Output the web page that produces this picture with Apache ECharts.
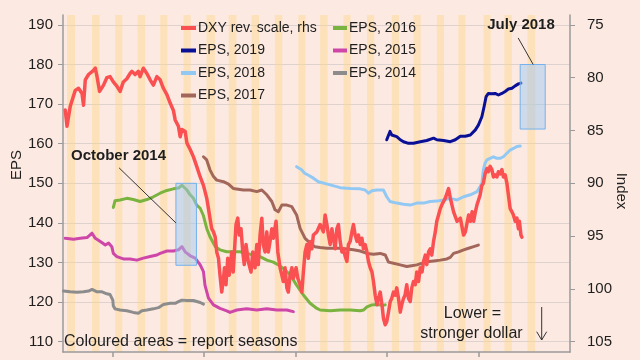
<!DOCTYPE html>
<html>
<head>
<meta charset="utf-8">
<script src="https://cdn.jsdelivr.net/npm/echarts@6/dist/echarts.min.js"></script>
<style>
html,body{margin:0;padding:0;background:#FCEAE2;}
#chart{width:640px;height:360px;}
</style>
</head>
<body>
<div id="chart"></div>
<script>
// ---- Data ----
const dxyDates = ['2013-06-25','2013-07-02','2013-07-15','2013-08-04','2013-08-17','2013-08-31','2013-09-06','2013-09-13','2013-09-26','2013-10-16','2013-10-23','2013-10-30','2013-11-09','2013-11-25','2013-12-08','2013-12-21',
'2014-01-03','2014-01-17','2014-01-30','2014-02-12','2014-02-26','2014-03-11','2014-03-18','2014-03-31','2014-04-13','2014-04-20','2014-05-03','2014-05-17','2014-05-30','2014-06-12','2014-06-26','2014-07-09','2014-07-22','2014-08-05','2014-08-18','2014-08-31','2014-09-07','2014-09-20','2014-09-27','2014-10-04','2014-10-17','2014-10-24','2014-11-06','2014-11-19','2014-12-02','2014-12-16','2014-12-29',
'2015-01-11','2015-01-18','2015-01-24','2015-01-31','2015-02-07','2015-02-14','2015-02-20','2015-02-27','2015-03-05','2015-03-12','2015-03-19','2015-03-23','2015-03-29','2015-04-05','2015-04-11','2015-04-21','2015-04-27','2015-05-08','2015-05-15','2015-05-21','2015-05-28','2015-06-04','2015-06-10','2015-06-17','2015-06-26','2015-07-07','2015-07-14','2015-07-23','2015-07-30','2015-08-05','2015-08-12','2015-08-19','2015-08-25','2015-09-01','2015-09-08','2015-09-14','2015-09-21','2015-09-28','2015-10-04','2015-10-15','2015-10-22','2015-10-31','2015-11-07','2015-11-13','2015-11-20','2015-11-27','2015-12-03','2015-12-10','2015-12-17','2015-12-23',
'2016-01-03','2016-01-10','2016-01-19','2016-01-26','2016-02-01','2016-02-08','2016-02-15','2016-02-21','2016-02-28','2016-03-06','2016-03-12','2016-03-26','2016-04-08','2016-04-21','2016-04-28','2016-05-05','2016-05-11','2016-05-18','2016-05-25','2016-05-31','2016-06-07','2016-06-14','2016-06-20','2016-06-27','2016-07-04','2016-07-10','2016-07-17','2016-07-24','2016-07-30','2016-08-06','2016-08-13','2016-08-19','2016-08-26','2016-09-02','2016-09-08','2016-09-15','2016-09-22','2016-09-28','2016-10-05','2016-10-12','2016-10-18','2016-10-25','2016-11-01','2016-11-07','2016-11-14','2016-11-21','2016-11-27','2016-12-04','2016-12-11','2016-12-17','2016-12-24','2016-12-30',
'2017-01-06','2017-01-13','2017-01-19','2017-01-26','2017-02-02','2017-02-08','2017-02-15','2017-02-22','2017-02-28','2017-03-07','2017-03-13','2017-03-20','2017-03-27','2017-04-03','2017-04-09','2017-04-16','2017-04-23','2017-04-29','2017-05-06','2017-05-13','2017-05-20','2017-05-26','2017-06-02','2017-06-08','2017-06-15','2017-06-22','2017-06-28','2017-07-05','2017-07-12','2017-07-18','2017-07-25','2017-08-01','2017-08-08','2017-08-21','2017-09-03','2017-09-10','2017-09-23','2017-10-07','2017-10-20','2017-11-02','2017-11-09','2017-11-22','2017-11-29','2017-12-06','2017-12-12','2017-12-19','2017-12-26',
'2018-01-07','2018-01-14','2018-01-20','2018-01-27','2018-02-03','2018-02-09','2018-02-16','2018-02-23','2018-03-01','2018-03-08','2018-03-15','2018-03-21','2018-03-28','2018-04-04','2018-04-10','2018-04-17','2018-04-24','2018-04-30','2018-05-07','2018-05-14','2018-05-20','2018-05-27','2018-06-03','2018-06-09','2018-06-13','2018-06-19','2018-06-23'];
const dxyValues = [83.05,84.6,82.7,81.2,81.0,81.5,82.6,80.2,79.7,79.3,79.1,79.9,81.3,80.7,80.0,79.9,
80.4,80.8,81.3,80.4,80.1,79.6,79.4,79.7,79.4,79.9,79.1,79.6,80.2,80.7,79.9,80.2,81.0,81.6,82.4,83.1,84.0,84.6,85.6,84.9,85.1,86.2,86.8,87.5,88.4,89.4,90.2,
91.4,92.4,93.3,94.3,94.6,95.1,96.5,97.1,98.7,100.3,99.0,98.0,99.6,97.1,98.7,96.5,98.4,93.9,93.3,94.9,94.3,96.5,97.7,95.8,97.4,98.4,96.5,98.0,95.8,97.7,94.9,93.3,95.8,96.5,94.6,96.5,95.5,94.3,95.2,93.6,96.5,98.0,98.7,99.3,98.0,99.9,100.3,98.7,98.0,99.0,
98.0,99.0,99.6,100.3,98.4,96.5,95.8,97.1,95.5,96.2,94.9,94.6,93.9,94.6,93.0,93.9,94.9,95.8,94.3,95.2,96.2,94.3,93.9,95.5,96.5,96.2,96.9,97.4,95.8,95.5,94.6,93.9,94.9,95.5,94.9,95.8,95.2,96.2,95.8,96.5,97.4,98.0,98.4,99.3,100.6,101.5,100.9,100.3,101.5,102.8,103.4,103.1,
102.2,101.2,100.9,100.3,100.6,99.9,100.9,102.2,101.5,100.9,100.6,99.6,100.9,101.2,99.9,99.3,99.6,98.4,99.3,98.0,98.4,97.4,96.8,97.7,96.5,96.2,96.8,95.5,94.6,93.6,93.0,92.4,92.0,91.4,90.5,91.4,92.7,93.6,93.3,94.9,94.6,93.0,93.6,92.7,93.6,92.7,92.0,
91.1,90.2,90.0,89.1,88.6,88.9,88.4,88.7,89.4,89.2,89.4,88.9,89.1,88.7,89.4,89.2,90.0,91.1,92.4,92.7,93.0,93.6,93.3,94.3,93.6,94.9,95.1];

const eps2014Dates = ['2013-06-18','2013-07-15','2013-08-11','2013-09-06','2013-09-26','2013-10-10','2013-10-30','2013-11-19','2013-12-08','2013-12-21','2014-01-01','2014-01-03','2014-01-10','2014-01-30','2014-02-26','2014-03-24','2014-04-13','2014-04-27','2014-05-17','2014-06-12','2014-07-02','2014-07-22','2014-08-18','2014-09-07','2014-09-20','2014-10-04','2014-10-24','2014-11-19','2014-12-16','2014-12-29'];
const eps2014Values = [122.8,122.6,122.5,122.6,122.8,123.2,122.6,122.6,122.1,121.9,120.5,119.0,118.3,118.0,117.8,117.4,117.2,117.8,118.0,118.3,118.6,119.4,119.7,119.7,120.1,120.5,120.4,120.4,119.9,119.5];

const eps2015Dates = ['2013-06-25','2013-07-28','2013-08-24','2013-09-20','2013-09-29','2013-10-10','2013-10-23','2013-11-12','2013-12-02','2013-12-15','2013-12-28','2014-01-03','2014-01-17','2014-02-12','2014-03-11','2014-04-07','2014-05-03','2014-05-30','2014-06-26','2014-07-09','2014-08-05','2014-08-31','2014-09-20','2014-10-04','2014-10-17','2014-11-06','2014-11-26','2014-12-16','2014-12-29','2015-01-04','2015-01-18','2015-02-07','2015-03-05','2015-04-01','2015-04-14','2015-05-11','2015-06-20','2015-07-30','2015-09-08','2015-10-18','2015-11-27','2015-12-23'];
const eps2015Values = [136.1,135.9,136.1,136.3,136.8,137.4,136.1,135.3,134.4,134.9,134.0,132.3,131.5,130.9,130.9,130.6,131.1,131.5,131.9,132.3,132.9,132.9,133.2,134.0,132.7,131.7,131.1,129.4,127.7,124.3,121.0,119.3,118.4,117.8,117.4,118.0,118.3,118.0,118.3,118.0,118.0,117.6];

const eps2016Dates = ['2014-01-03','2014-01-10','2014-01-30','2014-02-26','2014-03-24','2014-04-20','2014-05-17','2014-06-12','2014-07-09','2014-08-05','2014-08-31','2014-09-20','2014-10-04','2014-10-10','2014-10-24','2014-11-06','2014-11-19','2014-12-02','2014-12-16','2014-12-29','2015-01-11','2015-01-24','2015-02-14','2015-03-05','2015-04-01','2015-04-27','2015-05-24','2015-06-20','2015-07-16','2015-08-12','2015-09-08','2015-10-04','2015-10-24','2015-11-13','2015-12-10','2016-01-05','2016-02-01','2016-02-28','2016-03-26','2016-04-08','2016-05-18','2016-06-27','2016-08-06','2016-09-15','2016-09-28','2016-10-12','2016-11-01','2016-11-21','2016-12-17','2016-12-24'];
const eps2016Values = [143.9,145.6,145.8,146.2,145.9,145.4,145.9,146.6,147.5,148.2,148.6,148.8,149.5,149.0,148.3,147.1,146.2,144.5,143.7,141.8,138.6,136.5,134.0,133.2,132.7,132.7,132.7,132.3,131.9,131.5,130.6,130.1,129.4,128.5,126.9,124.3,121.8,119.7,118.4,118.0,117.8,118.0,118.0,117.8,118.0,118.8,119.3,119.4,119.2,119.3];

const eps2017Dates = ['2014-12-29','2015-01-11','2015-01-24','2015-02-07','2015-02-20','2015-03-19','2015-04-08','2015-04-27','2015-06-06','2015-07-03','2015-07-30','2015-08-19','2015-09-08','2015-09-28','2015-10-11','2015-10-24','2015-11-07','2015-11-27','2015-12-17','2016-01-05','2016-01-19','2016-02-08','2016-02-28','2016-03-18','2016-04-08','2016-05-05','2016-05-31','2016-06-27','2016-07-24','2016-08-19','2016-09-15','2016-10-12','2016-11-07','2016-12-04','2016-12-24','2017-01-06','2017-01-26','2017-02-22','2017-03-20','2017-04-09','2017-04-29','2017-05-20','2017-06-08','2017-07-05','2017-08-01','2017-08-27','2017-09-10','2017-09-23','2017-10-13','2017-11-02','2017-11-22','2017-12-12','2017-12-31'];
const eps2017Values = [156.7,155.9,153.4,151.7,150.8,150.4,149.8,148.7,148.3,148.3,147.9,148.3,147.1,145.4,143.3,142.8,144.5,144.5,144.1,142.0,138.6,136.1,134.9,134.0,133.8,133.6,133.6,133.6,133.4,133.2,132.9,132.3,132.1,132.3,131.9,130.1,129.8,129.4,129.0,129.2,129.4,129.8,130.2,130.4,130.6,130.9,131.3,132.3,132.7,133.2,133.6,134.0,134.4];

const eps2018Dates = ['2016-01-05','2016-01-11','2016-01-25','2016-02-07','2016-02-20','2016-03-12','2016-04-01','2016-04-08','2016-05-18','2016-06-27','2016-08-06','2016-09-15','2016-10-05','2016-10-18','2016-11-01','2016-11-21','2016-12-17','2016-12-30','2017-01-12','2017-02-08','2017-03-07','2017-04-03','2017-04-29','2017-05-26','2017-06-22','2017-07-18','2017-08-14','2017-09-10','2017-10-07','2017-11-02','2017-11-29','2017-12-26','2018-01-07','2018-01-14','2018-01-20','2018-01-27','2018-02-03','2018-02-16','2018-03-01','2018-03-15','2018-03-28','2018-04-10','2018-04-24','2018-05-07','2018-05-20','2018-06-03','2018-06-16'];
const eps2018Values = [154.2,154.6,153.4,152.5,152.1,151.3,150.4,150.2,149.6,148.9,148.7,148.6,148.3,147.5,148.1,148.3,148.3,146.6,145.4,145.0,144.7,144.5,145.0,145.0,145.4,145.5,145.8,146.2,145.8,146.6,147.1,147.9,149.2,150.0,153.4,155.1,155.9,156.3,156.7,156.3,156.3,156.7,157.6,158.4,158.8,159.3,159.4];

const eps2019Dates = ['2016-12-30','2017-01-12','2017-01-19','2017-01-26','2017-02-08','2017-02-22','2017-03-07','2017-03-27','2017-04-16','2017-05-13','2017-06-08','2017-07-05','2017-07-18','2017-08-14','2017-09-10','2017-09-30','2017-10-20','2017-11-09','2017-11-29','2017-12-19','2017-12-31','2018-01-14','2018-01-23','2018-01-31','2018-02-09','2018-02-23','2018-03-08','2018-03-21','2018-04-04','2018-04-17','2018-04-30','2018-05-14','2018-05-27','2018-06-09','2018-06-19'];
const eps2019Values = [161.0,163.1,162.2,162.6,161.8,161.0,160.5,160.1,160.1,160.5,160.8,161.4,161.0,160.8,160.5,161.0,161.9,161.9,162.2,163.5,164.7,166.8,169.4,171.9,172.7,172.6,172.7,172.3,172.7,173.2,173.8,174.0,174.6,175.1,175.3];

// report seasons (shaded bands)
const seasonStarts = ['2013-07-02','2013-10-10','2014-01-10','2014-04-09','2014-07-09','2014-10-10','2015-01-10','2015-04-09','2015-07-09','2015-10-10','2016-01-12','2016-04-08','2016-07-10','2016-10-12','2017-01-19','2017-04-16','2017-07-18','2017-10-12','2018-01-20','2018-04-14','2018-07-15'];
const seasonEnds = ['2013-08-03','2013-11-09','2014-02-08','2014-05-10','2014-08-07','2014-11-08','2015-02-13','2015-05-10','2015-08-08','2015-11-09','2016-02-10','2016-05-08','2016-08-08','2016-11-10','2017-02-17','2017-05-15','2017-08-16','2017-11-10','2018-02-18','2018-05-14','2018-08-15'];

// highlighted periods
const boxNames = ['October 2014', 'July 2018'];
const boxStart = ['2014-09-10', '2018-06-16'];
const boxEnd = ['2014-12-01', '2018-09-24'];
const boxLow = [129.3, 163.7];
const boxHigh = [150, 180];
const leaderFrom = [['2014-01-26', 153.9], ['2018-06-08', 186.7]];
const leaderTo = [['2014-09-10', 140.0], ['2018-08-07', 180.0]];

// axes
const epsTicks = [110, 120, 130, 140, 150, 160, 170, 180, 190];
const indexTicks = [75, 80, 85, 90, 95, 100, 105];
const yearTicks = ['2014-01-01', '2015-01-01', '2016-01-01', '2017-01-01', '2018-01-01'];

// ---- Chart ----
const FONT = '"Liberation Sans", Arial, sans-serif';
const TXT = '#1e1e1e';
const epsMin = 107.4, epsMax = 192.5;
// DXY reversed scale aligned so 190 EPS <-> 75, 110 EPS <-> 105
const idxAt = e => 75 + (190 - e) * 0.375;

const pair = (d, v) => d.map((x, i) => [x, v[i]]);

const lineSeries = (name, dates, vals, color, width, yIdx) => ({
  name, type: 'line', data: pair(dates, vals), yAxisIndex: yIdx || 0,
  showSymbol: false, symbol: 'none', smooth: false,
  lineStyle: { color, width, join: 'round', cap: 'round' },
  itemStyle: { color }, z: 3
});

const option = {
  animation: false,
  backgroundColor: '#FCEAE2',
  textStyle: { fontFamily: FONT },
  grid: { left: 63, right: 70, top: 15, bottom: 8, containLabel: false },
  xAxis: {
    type: 'time', min: '2013-06-16', max: '2019-01-01',
    axisLine: { show: true, lineStyle: { color: '#9a9a9a', width: 1.5 } },
    axisTick: { show: true, length: 5, customValues: yearTicks, lineStyle: { color: '#9a9a9a', width: 1.5 } },
    axisLabel: { show: false },
    splitLine: { show: false }
  },
  yAxis: [{
    type: 'value', position: 'left', min: epsMin, max: epsMax,
    axisLine: { show: true, lineStyle: { color: '#9a9a9a', width: 1.5 } },
    axisTick: { show: true, length: 5, customValues: epsTicks, lineStyle: { color: '#9a9a9a' } },
    axisLabel: { customValues: epsTicks, fontSize: 15, color: TXT, margin: 10, fontFamily: FONT },
    splitLine: { show: true, lineStyle: { color: '#DDD2CD', width: 1 } }
  }, {
    type: 'value', position: 'right', inverse: true,
    min: idxAt(epsMax), max: idxAt(epsMin),
    axisLine: { show: true, lineStyle: { color: '#9a9a9a', width: 1.5 } },
    axisTick: { show: true, length: 5, customValues: indexTicks, lineStyle: { color: '#9a9a9a' } },
    axisLabel: { customValues: indexTicks, fontSize: 15, color: TXT, margin: 17, fontFamily: FONT },
    splitLine: { show: false }
  }],
  legend: [{
    data: ['DXY rev. scale, rhs', 'EPS, 2019', 'EPS, 2018', 'EPS, 2017'],
    orient: 'vertical', left: 181, top: 21, padding: 0,
    icon: 'rect', itemWidth: 15, itemHeight: 4, itemGap: 8.5,
    textStyle: { fontSize: 14, color: TXT, lineHeight: 14, fontFamily: FONT, padding: [0, 0, 0, -3] },
    selectedMode: false
  }, {
    data: ['EPS, 2016', 'EPS, 2015', 'EPS, 2014'],
    orient: 'vertical', left: 333, top: 21, padding: 0,
    icon: 'rect', itemWidth: 14, itemHeight: 4, itemGap: 8.5,
    textStyle: { fontSize: 14, color: TXT, lineHeight: 14, fontFamily: FONT, padding: [0, 0, 0, -3] },
    selectedMode: false
  }],
  series: [
    {
      name: 'seasons', type: 'line', data: [[seasonStarts[0], 150]],
      showSymbol: false, symbol: 'none', lineStyle: { width: 0, opacity: 0 }, silent: true, z: 0,
      markArea: {
        silent: true, z: 0,
        itemStyle: { color: 'rgba(255,214,140,0.45)' },
        data: seasonStarts.map((s, i) => [{ xAxis: s }, { xAxis: seasonEnds[i] }])
      }
    },
    lineSeries('EPS, 2014', eps2014Dates, eps2014Values, '#8C8C8C', 3),
    lineSeries('EPS, 2015', eps2015Dates, eps2015Values, '#CE46A8', 3),
    lineSeries('EPS, 2016', eps2016Dates, eps2016Values, '#7AB33F', 3),
    lineSeries('EPS, 2017', eps2017Dates, eps2017Values, '#A2675A', 3),
    lineSeries('EPS, 2018', eps2018Dates, eps2018Values, '#92C8F4', 3),
    lineSeries('EPS, 2019', eps2019Dates, eps2019Values, '#0A1096', 3),
    lineSeries('DXY rev. scale, rhs', dxyDates, dxyValues, '#FA5052', 3.5, 1),
    {
      name: 'boxes', type: 'line', data: [[boxStart[0], boxLow[0]]],
      showSymbol: false, symbol: 'none', lineStyle: { width: 0, opacity: 0 }, silent: true, z: 10,
      markArea: {
        silent: true, z: 10,
        itemStyle: { color: 'rgba(160,200,240,0.5)', borderColor: '#73B2EE', borderWidth: 1 },
        data: boxNames.map((n, i) => [{ xAxis: boxStart[i], yAxis: boxLow[i] }, { xAxis: boxEnd[i], yAxis: boxHigh[i] }])
      },
      markLine: {
        silent: true, z: 10, symbol: ['none', 'none'],
        lineStyle: { color: '#333', width: 1, type: 'solid' },
        label: { show: false },
        data: boxNames.map((n, i) => [{ coord: leaderFrom[i] }, { coord: leaderTo[i] }])
      }
    }
  ],
  graphic: [
    { type: 'text', x: 17, y: 165, rotation: Math.PI / 2,
      style: { text: 'EPS', fill: TXT, font: '15px ' + FONT, textAlign: 'center', textVerticalAlign: 'middle', align: 'center', verticalAlign: 'middle' } },
    { type: 'text', x: 621, y: 191, rotation: -Math.PI / 2,
      style: { text: 'Index', fill: TXT, font: '15px ' + FONT, textAlign: 'center', textVerticalAlign: 'middle', align: 'center', verticalAlign: 'middle' } },
    { type: 'text', x: 118.5, y: 156, z: 20,
      style: { text: 'October 2014', fill: TXT, font: 'bold 15px ' + FONT, textAlign: 'center', textVerticalAlign: 'middle', align: 'center', verticalAlign: 'middle' } },
    { type: 'text', x: 521, y: 25, z: 20,
      style: { text: 'July 2018', fill: TXT, font: 'bold 15px ' + FONT, textAlign: 'center', textVerticalAlign: 'middle', align: 'center', verticalAlign: 'middle' } },
    { type: 'text', x: 64, y: 341.5, z: 20,
      style: { text: 'Coloured areas = report seasons', fill: TXT, font: '16px ' + FONT, textAlign: 'left', textVerticalAlign: 'middle', align: 'left', verticalAlign: 'middle' } },
    { type: 'text', x: 472.5, y: 313.5, z: 20,
      style: { text: 'Lower =', fill: TXT, font: '16px ' + FONT, textAlign: 'center', textVerticalAlign: 'middle', align: 'center', verticalAlign: 'middle' } },
    { type: 'text', x: 471.5, y: 334, z: 20,
      style: { text: 'stronger dollar', fill: TXT, font: '16px ' + FONT, textAlign: 'center', textVerticalAlign: 'middle', align: 'center', verticalAlign: 'middle' } },
    { type: 'line', z: 20, shape: { x1: 541.7, y1: 307, x2: 541.7, y2: 340 }, style: { stroke: '#333', lineWidth: 1 } },
    { type: 'polyline', z: 20, shape: { points: [[536.7, 331.7], [541.7, 340], [546.7, 331.7]] }, style: { stroke: '#333', lineWidth: 1, fill: null } }
  ]
};

const chart = echarts.init(document.getElementById('chart'), null, { renderer: 'canvas' });
chart.setOption(option);
</script>
</body>
</html>
